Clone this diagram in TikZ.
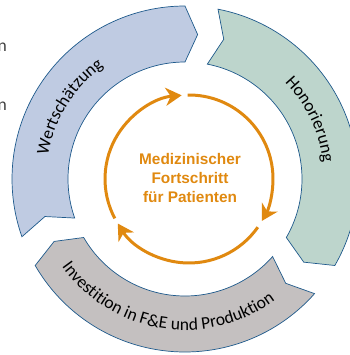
\documentclass[tikz,border=0pt]{standalone}
\usepackage{fontspec}
\setmainfont{Carlito}
\newfontfamily\arialfont{Liberation Sans}
\usetikzlibrary{arrows.meta,decorations.text}

\definecolor{wertblau}{RGB}{191,203,226}
\definecolor{honorgruen}{RGB}{189,213,204}
\definecolor{investgrau}{RGB}{196,192,192}
\definecolor{randblau}{RGB}{31,90,140}
\definecolor{orangeton}{RGB}{224,137,16}
\definecolor{restgrau}{RGB}{64,64,64}

\newcommand{\ringfont}{\fontsize{20}{24}\selectfont}

\tikzset{
    segment/.style={draw=randblau, line width=0.8pt},
    kreispfeil/.style={draw=orangeton, line width=0.12cm, -{Stealth[length=0.64cm, width=0.72cm, inset=0.2cm]}},
    ringtext/.style={decorate, decoration={text along path, text align=center}},
}

\begin{document}
\begin{tikzpicture}
    \useasboundingbox (-7.4,-7.04) rectangle (6.6,7.16);
    \clip (-7.4,-7.04) rectangle (6.6,7.16);

    % ring segments: outer arc -- tip -- inner arc -- notch
    \draw[segment, fill=wertblau]   (199.5:6.92) arc[start angle=199.5, end angle=90, radius=6.92] -- (85:5.8)
                                    -- (90:4.68) arc[start angle=90, end angle=199.5, radius=4.68] -- (195:5.8) -- cycle;
    \draw[segment, fill=honorgruen] (79:6.92) arc[start angle=79, end angle=-30, radius=6.92] -- (-35:5.8)
                                    -- (-30:4.68) arc[start angle=-30, end angle=79, radius=4.68] -- (74.5:5.8) -- cycle;
    \draw[segment, fill=investgrau] (-41.5:6.92) arc[start angle=-41.5, end angle=-150, radius=6.92] -- (-154.5:5.8)
                                    -- (-150:4.68) arc[start angle=-150, end angle=-41.5, radius=4.68] -- (-46:5.8) -- cycle;

    % labels along the ring
    \path[ringtext, decoration={text={|\ringfont|Wertschätzung}}]
        (213:5.56) arc[start angle=213, end angle=83, radius=5.56];
    \path[ringtext, decoration={text={|\ringfont|Honorierung}}]
        (90.5:5.56) arc[start angle=90.5, end angle=-39.5, radius=5.56];
    \path[ringtext, decoration={text={|\ringfont|Investition in F{\&}E und Produktion}}]
        (196:6.04) arc[start angle=196, end angle=326, radius=6.04];

    % inner cycle
    \begin{scope}[xshift=0.16cm]
        \draw[kreispfeil] (208:3.36) arc[start angle=208, end angle=95, radius=3.36];
        \draw[kreispfeil] (91:3.36) arc[start angle=91, end angle=-30, radius=3.36];
        \draw[kreispfeil] (-35:3.36) arc[start angle=-35, end angle=-148, radius=3.36];
    \end{scope}
    \node[text=orangeton, font=\arialfont\bfseries\fontsize{17.5}{21.6}\selectfont, align=center]
        (fortschritt) at (0.2,0.04) {Medizinischer\\Fortschritt\\für Patienten};

    % text cut off at the left edge
    \node[anchor=base east, inner sep=0, text=restgrau, font=\ringfont] (rest1) at (-7.12,5.08) {n};
    \node[anchor=base east, inner sep=0, text=restgrau, font=\ringfont] (rest2) at (-7.12,2.76) {n};
\end{tikzpicture}
\end{document}
